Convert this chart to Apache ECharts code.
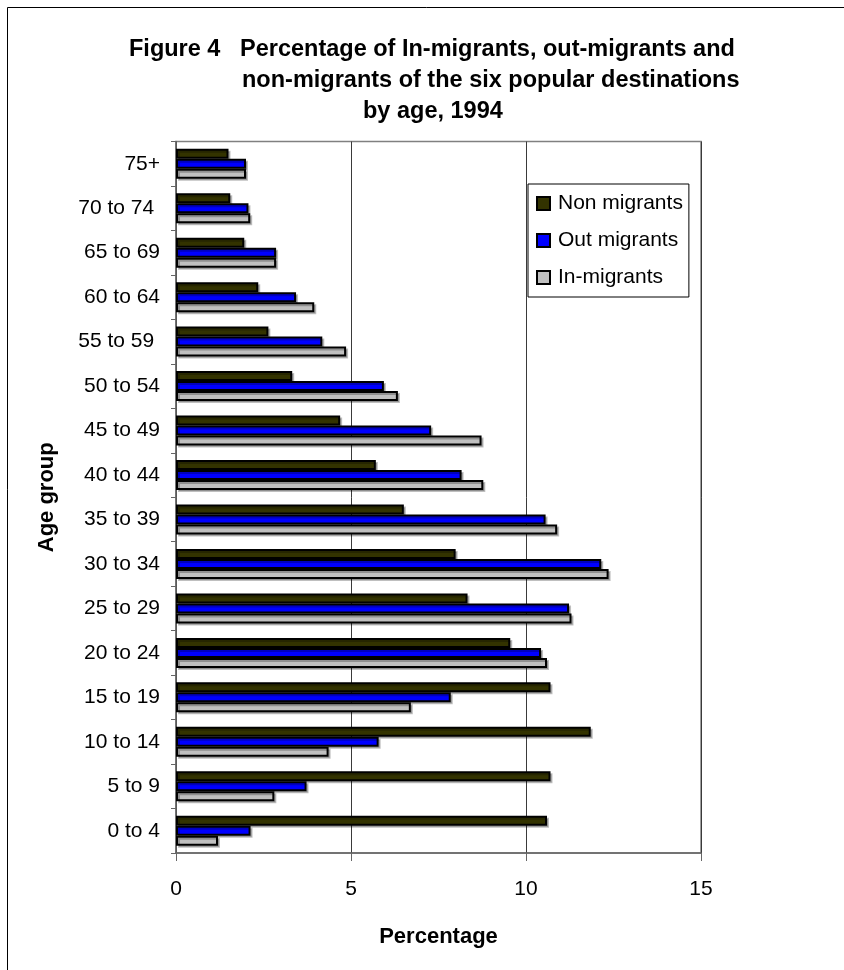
<!DOCTYPE html>
<html>
<head>
<meta charset="utf-8">
<title>Figure 4</title>
<script src="https://cdn.jsdelivr.net/npm/echarts@6/dist/echarts.min.js"></script>
<style>
  html, body { margin: 0; padding: 0; background: #fff; }
  #main { width: 844px; height: 970px; }
</style>
</head>
<body>
<div id="main"></div>
<script>
// age groups, bottom to top
const ageGroups = ["0 to 4", "5 to 9", "10 to 14", "15 to 19", "20 to 24", "25 to 29", "30 to 34",
  "35 to 39", "40 to 44", "45 to 49", "50 to 54", "55 to 59 ", "60 to 64", "65 to 69", "70 to 74 ", "75+"];
const nonMigrants = [10.6, 10.7, 11.85, 10.7, 9.55, 8.33, 7.99, 6.51, 5.71, 4.69, 3.32, 2.64, 2.35, 1.95, 1.55, 1.5];
const outMigrants = [2.13, 3.73, 5.79, 7.85, 10.43, 11.23, 12.15, 10.56, 8.16, 7.29, 5.94, 4.18, 3.43, 2.86, 2.07, 2.0];
const inMigrants = [1.2, 2.81, 4.36, 6.71, 10.6, 11.3, 12.36, 10.89, 8.78, 8.73, 6.34, 4.86, 3.95, 2.86, 2.12, 2.0];
const titleLines = [
  "Figure 4   Percentage of In-migrants, out-migrants and",
  "non-migrants of the six popular destinations",
  "by age, 1994"
];

const font = "Liberation Sans, Arial, sans-serif";
let chart = echarts.init(document.getElementById("main"));

let barStyle = (color) => ({
  color: color,
  borderColor: "#000",
  borderWidth: 2,
  shadowColor: "rgba(0,0,0,0.25)",
  shadowOffsetX: 2,
  shadowOffsetY: 2,
  shadowBlur: 0
});

let titleAt = (text, left, top) => ({
  text: text,
  left: left,
  top: top,
  padding: 0,
  textStyle: { fontFamily: font, fontSize: 23.5, fontWeight: "bold", color: "#000", lineHeight: 23 }
});

let option = {
  backgroundColor: "#fff",
  animation: false,
  title: [
    titleAt(titleLines[0], 129, 38),
    titleAt(titleLines[1], 242, 69),
    titleAt(titleLines[2], 363, 100)
  ],
  graphic: [
    {
      type: "rect",
      shape: { x: 7.5, y: 7.5, width: 1000, height: 1000 },
      style: { fill: "none", stroke: "#000", lineWidth: 1 },
      silent: true
    }
  ],
  legend: {
    orient: "vertical",
    left: 528,
    top: 184,
    data: ["Non migrants", "Out migrants", "In-migrants"],
    icon: "rect",
    itemWidth: 13,
    itemHeight: 13,
    itemGap: 16,
    padding: [9, 6, 9, 8],
    borderColor: "#000",
    borderWidth: 1,
    textStyle: { fontFamily: font, fontSize: 21, color: "#000", lineHeight: 21, padding: [0, 0, 0, 3] }
  },
  grid: {
    left: 176,
    right: 143,
    top: 141.5,
    bottom: 117,
    show: true,
    borderColor: "#808080",
    borderWidth: 1.5
  },
  xAxis: {
    type: "value",
    min: 0,
    max: 15,
    interval: 5,
    name: "Percentage",
    nameLocation: "middle",
    nameGap: 73,
    nameTextStyle: { fontFamily: font, fontSize: 22, fontWeight: "bold", color: "#000" },
    axisLine: { show: true, lineStyle: { color: "#666", width: 1.5 } },
    axisTick: { show: true, length: 8, lineStyle: { color: "#666" } },
    axisLabel: { fontFamily: font, fontSize: 21, color: "#000", margin: 26 },
    splitLine: { show: true, lineStyle: { color: "#3a3a3a", width: 1 } }
  },
  yAxis: {
    type: "category",
    data: ageGroups,
    name: "Age group",
    nameLocation: "middle",
    nameRotate: 90,
    nameGap: 118,
    nameTextStyle: { fontFamily: font, fontSize: 22, fontWeight: "bold", color: "#000" },
    axisLine: { show: true, lineStyle: { color: "#666", width: 1.5 } },
    axisTick: { show: true, length: 5, lineStyle: { color: "#666" } },
    axisLabel: { fontFamily: font, fontSize: 21, color: "#000", margin: 16 }
  },
  series: [
    {
      name: "Non migrants",
      type: "bar",
      data: nonMigrants,
      barWidth: 10,
      barGap: "0%",
      itemStyle: barStyle("#333300")
    },
    {
      name: "Out migrants",
      type: "bar",
      data: outMigrants,
      barWidth: 10,
      barGap: "0%",
      itemStyle: barStyle("#0000ff")
    },
    {
      name: "In-migrants",
      type: "bar",
      data: inMigrants,
      barWidth: 10,
      barGap: "0%",
      itemStyle: barStyle("#c0c0c0")
    }
  ]
};
chart.setOption(option);
</script>
</body>
</html>
